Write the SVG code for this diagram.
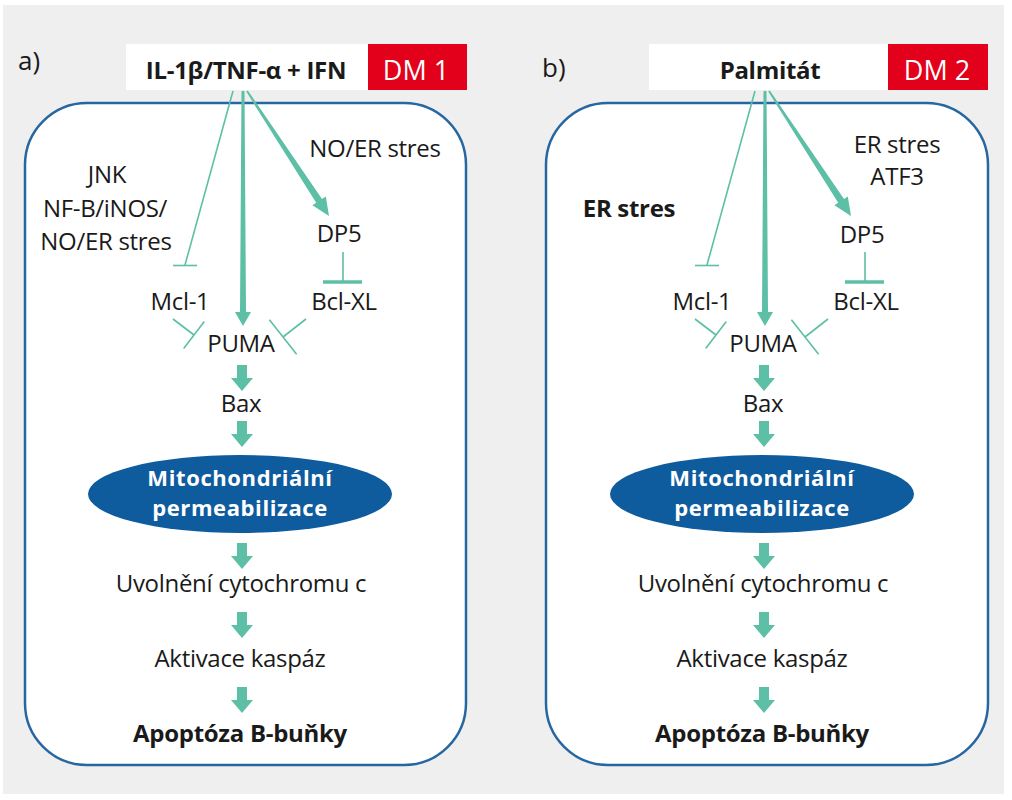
<svg xmlns="http://www.w3.org/2000/svg" width="1012" height="800" viewBox="0 0 1012 800">
<defs>
<style>
.t{font-family:"Open Sans","Liberation Sans",sans-serif;font-size:24px;fill:#1a1a1a;text-anchor:middle;letter-spacing:-0.3px}
.b{font-weight:bold}
.w{fill:#ffffff;font-size:22px;letter-spacing:0.6px}
.lbl{font-family:"Open Sans","Liberation Sans",sans-serif;font-size:26px;fill:#1a1a1a}
.dm{font-family:"Open Sans","Liberation Sans",sans-serif;font-size:27px;fill:#ffffff;text-anchor:middle}
.box{fill:#ffffff;stroke:#2767a1;stroke-width:2.5}
.inh{stroke:#5dbfa5;stroke-width:1.6;fill:none}
.inhb{stroke:#5dbfa5;stroke-width:3.5;fill:none}
.ar{fill:#5dbfa5}
.mito{fill:#0e5b9e}
</style>
<path id="blk" d="M-5,0 H5 V13 H11 L0,26 L-11,13 H-5 Z"/>
</defs>
<rect x="3" y="5" width="1001" height="789" fill="#efefef"/>

<g id="panel-a">
<rect class="box" x="25" y="103" width="441" height="662" rx="62"/>
<text class="lbl" x="18" y="70">a)</text>
</g>
<g id="panel-b">
<rect class="box" x="546" y="103" width="442" height="662" rx="62"/>
<text class="lbl" x="542" y="77">b)</text>
</g>

<g id="connectors">
<g id="conn-a">
<polyline class="inh" points="233,91 185,265"/>
<line class="inh" x1="173" y1="265.5" x2="197" y2="265.5"/>
<polygon class="ar" points="241.5,91 244.5,91 246,312 251,312 243,326 235,312 240,312"/>
<polygon class="ar" points="246.2,91.5 316.2,202.8 312.4,205.3 329,216 325.8,196.5 322,199 247.8,90.5"/>
<line class="inh" x1="343" y1="252" x2="343" y2="281"/>
<line class="inhb" x1="323" y1="282" x2="362" y2="282"/>
<line class="inh" x1="173" y1="319" x2="194" y2="335"/>
<line class="inh" x1="183.7" y1="348.5" x2="204.3" y2="321.5"/>
<line class="inh" x1="306" y1="319" x2="283" y2="337"/>
<line class="inh" x1="269.4" y1="319.7" x2="296.6" y2="354.3"/>
<use href="#blk" class="ar" x="242" y="365"/>
<use href="#blk" class="ar" x="242" y="421"/>
<use href="#blk" class="ar" x="242" y="543"/>
<use href="#blk" class="ar" x="242" y="612"/>
<use href="#blk" class="ar" x="242" y="687"/>
</g>
<g id="conn-b" transform="translate(522,0)">
<polyline class="inh" points="233,91 185,265"/>
<line class="inh" x1="173" y1="265.5" x2="197" y2="265.5"/>
<polygon class="ar" points="241.5,91 244.5,91 246,312 251,312 243,326 235,312 240,312"/>
<polygon class="ar" points="246.2,91.5 316.2,202.8 312.4,205.3 329,216 325.8,196.5 322,199 247.8,90.5"/>
<line class="inh" x1="343" y1="252" x2="343" y2="281"/>
<line class="inhb" x1="323" y1="282" x2="362" y2="282"/>
<line class="inh" x1="173" y1="319" x2="194" y2="335"/>
<line class="inh" x1="183.7" y1="348.5" x2="204.3" y2="321.5"/>
<line class="inh" x1="306" y1="319" x2="283" y2="337"/>
<line class="inh" x1="269.4" y1="319.7" x2="296.6" y2="354.3"/>
<use href="#blk" class="ar" x="242" y="365"/>
<use href="#blk" class="ar" x="242" y="421"/>
<use href="#blk" class="ar" x="242" y="543"/>
<use href="#blk" class="ar" x="242" y="612"/>
<use href="#blk" class="ar" x="242" y="687"/>
</g>
</g>

<g id="a-stimulus">
<rect x="126" y="44" width="242" height="46" fill="#ffffff"/>
<text class="t b" x="246" y="79">IL-1β/TNF-α + IFN</text>
</g>
<g id="a-dm1">
<rect x="368" y="44" width="99" height="46" fill="#e2001a"/>
<text class="dm" x="416" y="80">DM 1</text>
</g>
<g id="a-jnk">
<text class="t" x="107" y="183">JNK</text>
<text class="t" x="105" y="217">NF-B/iNOS/</text>
<text class="t" x="106" y="250">NO/ER stres</text>
</g>
<g id="a-noer"><text class="t" x="375" y="157">NO/ER stres</text></g>
<g id="a-dp5"><text class="t" x="339" y="242">DP5</text></g>
<g id="a-mcl1"><text class="t" x="180" y="310">Mcl-1</text></g>
<g id="a-bclxl"><text class="t" x="344" y="310">Bcl-XL</text></g>
<g id="a-puma"><text class="t" x="241" y="352">PUMA</text></g>
<g id="a-bax"><text class="t" x="241" y="412">Bax</text></g>
<g id="a-mito">
<ellipse class="mito" cx="240" cy="494" rx="152" ry="39"/>
<text class="t b w" x="240" y="486">Mitochondriální</text>
<text class="t b w" x="240" y="516">permeabilizace</text>
</g>
<g id="a-cyt"><text class="t" x="241" y="592">Uvolnění cytochromu c</text></g>
<g id="a-kasp"><text class="t" x="240" y="667">Aktivace kaspáz</text></g>
<g id="a-apo"><text class="t b" x="240" y="742">Apoptóza B-buňky</text></g>

<g id="b-stimulus">
<rect x="649" y="44" width="239" height="46" fill="#ffffff"/>
<text class="t b" x="770" y="79">Palmitát</text>
</g>
<g id="b-dm2">
<rect x="888" y="44" width="100" height="46" fill="#e2001a"/>
<text class="dm" x="937" y="80">DM 2</text>
</g>
<g id="b-er-right">
<text class="t" x="897" y="153">ER stres</text>
<text class="t" x="897" y="185">ATF3</text>
</g>
<g id="b-er-left"><text class="t b" x="629" y="217">ER stres</text></g>
<g id="b-dp5"><text class="t" x="862" y="243">DP5</text></g>
<g id="b-mcl1"><text class="t" x="702" y="310">Mcl-1</text></g>
<g id="b-bclxl"><text class="t" x="866" y="310">Bcl-XL</text></g>
<g id="b-puma"><text class="t" x="763" y="352">PUMA</text></g>
<g id="b-bax"><text class="t" x="763" y="412">Bax</text></g>
<g id="b-mito">
<ellipse class="mito" cx="762" cy="494" rx="152" ry="39"/>
<text class="t b w" x="762" y="486">Mitochondriální</text>
<text class="t b w" x="762" y="516">permeabilizace</text>
</g>
<g id="b-cyt"><text class="t" x="763" y="592">Uvolnění cytochromu c</text></g>
<g id="b-kasp"><text class="t" x="762" y="667">Aktivace kaspáz</text></g>
<g id="b-apo"><text class="t b" x="762" y="742">Apoptóza B-buňky</text></g>
</svg>
